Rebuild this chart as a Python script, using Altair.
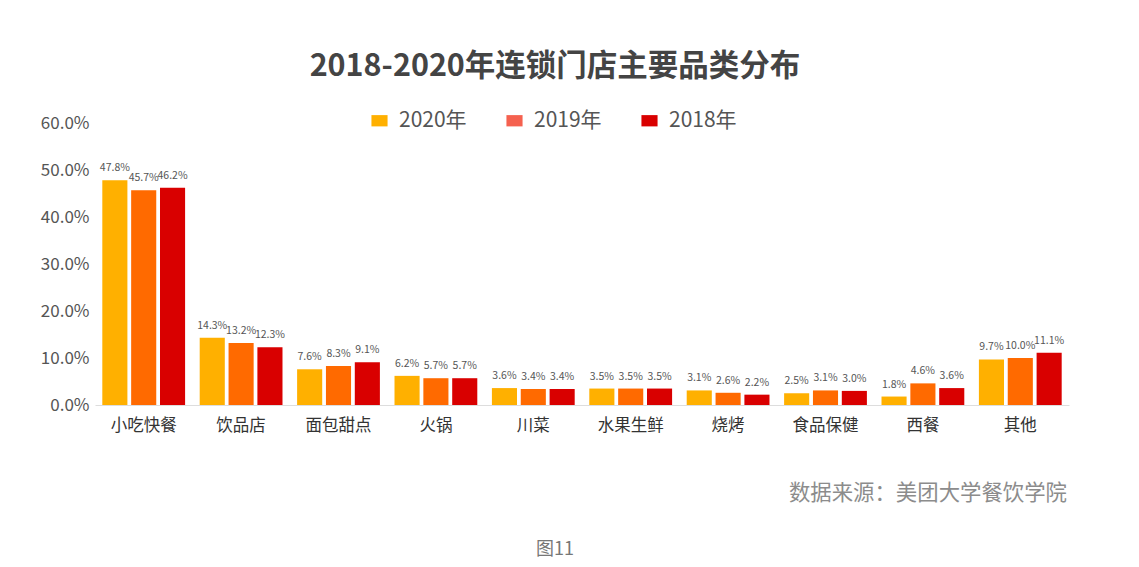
import altair as alt
import pandas as pd

categories = ["小吃快餐", "饮品店", "面包甜点", "火锅", "川菜", "水果生鲜", "烧烤", "食品保健", "西餐", "其他"]
years = ["2020年", "2019年", "2018年"]
v2020 = [47.8, 14.3, 7.6, 6.2, 3.6, 3.5, 3.1, 2.5, 1.8, 9.7]
v2019 = [45.7, 13.2, 8.3, 5.7, 3.4, 3.5, 2.6, 3.1, 4.6, 10.0]
v2018 = [46.2, 12.3, 9.1, 5.7, 3.4, 3.5, 2.2, 3.0, 3.6, 11.1]
bar_colors = ["#FFB000", "#FF6A00", "#D90000"]
legend_colors = ["#FFB000", "#F5614F", "#D90000"]
y_ticks = [0, 0.1, 0.2, 0.3, 0.4, 0.5, 0.6]

rows = []
for yr, vals in zip(years, [v2020, v2019, v2018]):
    for c, v in zip(categories, vals):
        rows.append({"品类": c, "年份": yr, "占比": v / 100, "标签": f"{v:.1f}%"})
df = pd.DataFrame(rows)

FONT = "Noto Sans CJK SC"

x_enc = alt.X("品类:N", sort=categories,
              scale=alt.Scale(paddingInner=0.15, paddingOuter=0.075),
              axis=alt.Axis(title=None, labelAngle=0, ticks=False, domainColor="#dddddd",
                            labelFontSize=16.5, labelColor="#333333", labelPadding=12,
                            labelFont=FONT))
xo_enc = alt.XOffset("年份:N", sort=years, scale=alt.Scale(paddingInner=0.13))
y_enc = alt.Y("占比:Q", scale=alt.Scale(domain=[0, 0.6]),
              axis=alt.Axis(title=None, format=".1%", values=y_ticks, grid=False, domain=False,
                            ticks=False, labelFontSize=17, labelColor="#555555",
                            labelPadding=6, labelFont=FONT))

base = alt.Chart(df)

bars = base.mark_bar().encode(
    x=x_enc, xOffset=xo_enc, y=y_enc,
    color=alt.Color("年份:N", sort=years,
                    scale=alt.Scale(domain=years, range=bar_colors), legend=None),
)

labels = base.mark_text(baseline="bottom", dy=-7, fontSize=10.5, color="#555555", font=FONT).encode(
    x=x_enc, xOffset=xo_enc, y=y_enc, text="标签:N"
)

legend_layer = alt.Chart(pd.DataFrame({"图例": years})).mark_square(opacity=0).encode(
    color=alt.Color("图例:N", sort=years,
                    scale=alt.Scale(domain=years, range=legend_colors),
                    legend=alt.Legend(title=None, orient="none", legendX=274, legendY=-13,
                                      direction="horizontal", symbolType="M-1,-0.7H1V0.7H-1Z",
                                      symbolSize=260, symbolOpacity=1, symbolStrokeWidth=0,
                                      labelFontSize=21, labelColor="#555555", labelFont=FONT,
                                      labelOffset=9, columnPadding=37)),
)

source = alt.Chart(pd.DataFrame({"t": ["数据来源：美团大学餐饮学院"]})).mark_text(
    align="right", baseline="middle", fontSize=21.4, color="#8c8c8c", font=FONT
).encode(x=alt.value(972), y=alt.value(371), text="t:N")

caption = alt.Chart(pd.DataFrame({"t": ["图11"]})).mark_text(
    align="center", baseline="middle", fontSize=18, color="#777777", font=FONT
).encode(x=alt.value(460), y=alt.value(427), text="t:N")

chart = alt.layer(bars, labels, legend_layer, source, caption).resolve_scale(
    color="independent"
).properties(
    width=974, height=282,
    padding={"left": 87, "top": 115, "right": 62, "bottom": 154},
    autosize=alt.AutoSizeParams(type="none"),
    title=alt.TitleParams("2018-2020年连锁门店主要品类分布", fontSize=30.5, fontWeight="bold",
                          color="#444444", font=FONT, anchor="middle", frame="group",
                          dx=-27, offset=28),
).configure_view(stroke=None)

chart.save("out.html", embed_options={"renderer": "svg", "actions": False})
